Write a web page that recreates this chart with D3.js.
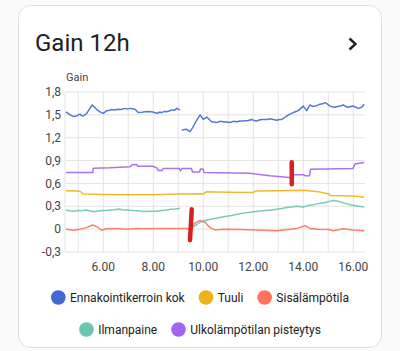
<!DOCTYPE html>
<html><head><meta charset="utf-8">
<script src="https://cdn.jsdelivr.net/npm/d3@7"></script>
<style>body{margin:0;background:#fafafa;}svg{display:block;font-family:Roboto,"Noto Sans",sans-serif;}</style>
</head><body>
<svg id="c" width="400" height="351"></svg>
<script>
// ---- data ----
const title = "Gain 12h";
const axisName = "Gain";
const seriesNames = ["Ennakointikerroin kok","Tuuli","Sisälämpötila","Ilmanpaine","Ulkolämpötilan pisteytys"];
const seriesColors = ["#4269d0","#efb118","#ff725c","#6cc5b0","#a463f2"];
const yTicks = [-0.3,0,0.3,0.6,0.9,1.2,1.5,1.8];
const xTickHours = [6,8,10,12,14,16];
const xGridHours = [5,6,7,8,9,10,11,12,13,14,15,16];
const xDomain = [4.47,16.47];

const ennakointi = [[4.51,1.54],[4.67,1.50],[4.80,1.48],[4.94,1.485],[5.00,1.50],[5.07,1.51],[5.13,1.49],[5.20,1.485],[5.34,1.52],[5.45,1.58],[5.56,1.63],[5.65,1.60],[5.74,1.57],[5.87,1.54],[6.00,1.52],[6.14,1.555],[6.25,1.56],[6.34,1.57],[6.45,1.565],[6.60,1.575],[6.70,1.57],[6.87,1.585],[6.97,1.575],[7.07,1.585],[7.17,1.58],[7.27,1.575],[7.40,1.53],[7.55,1.535],[7.67,1.54],[7.80,1.545],[7.94,1.54],[8.05,1.53],[8.14,1.52],[8.25,1.535],[8.34,1.53],[8.45,1.545],[8.54,1.54],[8.64,1.55],[8.74,1.565],[8.84,1.56],[8.94,1.585],[9.07,1.565],[9.10,null],
  [9.14,1.30],[9.34,1.31],[9.47,1.28],[9.57,1.33],[9.67,1.39],[9.87,1.50],[10.00,1.44],[10.14,1.47],[10.24,1.44],[10.34,1.41],[10.54,1.40],[10.67,1.415],[10.80,1.41],[10.94,1.405],[11.07,1.40],[11.20,1.415],[11.34,1.41],[11.47,1.42],[11.60,1.42],[11.80,1.425],[11.94,1.44],[12.04,1.425],[12.14,1.42],[12.27,1.435],[12.40,1.44],[12.54,1.44],[12.67,1.45],[12.80,1.44],[12.94,1.43],[13.04,1.44],[13.14,1.44],[13.34,1.485],[13.47,1.51],[13.60,1.53],[13.80,1.555],[14.00,1.615],[14.14,1.555],[14.27,1.63],[14.37,1.61],[14.47,1.615],[14.57,1.625],[14.67,1.64],[14.77,1.645],[14.87,1.66],[14.97,1.64],[15.07,1.615],[15.17,1.605],[15.27,1.60],[15.37,1.61],[15.47,1.615],[15.60,1.63],[15.70,1.61],[15.80,1.60],[15.90,1.61],[16.00,1.615],[16.10,1.60],[16.20,1.585],[16.34,1.60],[16.44,1.64]];

const tuuli = [[4.51,0.505],[5.00,0.50],[5.10,0.49],[5.20,0.46],[6.00,0.455],[7.00,0.45],[8.00,0.45],[9.00,0.46],[9.90,0.465],[10.00,0.46],[10.12,0.49],[11.00,0.485],[12.00,0.48],[12.08,0.50],[13.00,0.505],[14.00,0.51],[14.60,0.49],[15.00,0.465],[15.10,0.44],[16.00,0.435],[16.44,0.42]];

const sisa = [[4.51,0.0],[4.80,-0.015],[5.07,0.0],[5.34,0.02],[5.56,0.055],[5.74,0.035],[5.94,-0.015],[6.14,0.005],[6.54,0.01],[6.94,0.0],[7.34,0.01],[7.74,0.005],[8.27,0.01],[8.80,0.01],[9.34,0.01],[9.50,0.0],[9.67,0.08],[9.87,0.115],[10.07,0.09],[10.27,0.02],[10.47,-0.01],[10.80,0.0],[11.50,-0.005],[12.14,-0.01],[12.94,-0.02],[13.47,0.0],[13.74,0.01],[14.07,0.045],[14.27,0.01],[14.60,0.0],[15.00,-0.005],[15.20,-0.02],[15.60,0.005],[16.00,-0.01],[16.44,-0.02]];

const ilma = [[4.51,0.25],[4.65,0.24],[4.80,0.235],[4.94,0.245],[5.07,0.24],[5.20,0.245],[5.30,0.25],[5.45,0.24],[5.60,0.23],[5.75,0.235],[5.90,0.24],[6.10,0.245],[6.27,0.25],[6.45,0.255],[6.60,0.265],[6.75,0.255],[6.93,0.25],[7.14,0.245],[7.34,0.24],[7.54,0.235],[7.74,0.23],[7.94,0.235],[8.14,0.235],[8.34,0.245],[8.54,0.25],[8.70,0.26],[8.87,0.265],[9.07,0.275],[9.10,null],
  [9.35,0.005],[9.50,-0.005],[9.60,0.03],[9.87,0.09],[10.14,0.12],[10.47,0.14],[10.87,0.165],[11.14,0.18],[11.40,0.20],[11.80,0.22],[12.10,0.23],[12.40,0.24],[12.70,0.25],[12.94,0.26],[13.14,0.27],[13.34,0.285],[13.54,0.29],[13.74,0.30],[14.00,0.29],[14.27,0.315],[14.47,0.325],[14.67,0.34],[14.87,0.35],[15.00,0.36],[15.20,0.375],[15.40,0.365],[15.60,0.345],[15.87,0.32],[16.14,0.305],[16.44,0.29]];

const ulko = [[4.51,0.745],[5.58,0.745],[5.60,0.80],[6.27,0.805],[7.07,0.82],[7.15,0.845],[7.34,0.85],[7.37,0.825],[8.00,0.825],[8.15,0.80],[8.21,0.77],[8.35,0.77],[8.40,0.795],[9.05,0.795],[9.09,0.765],[9.15,0.795],[9.53,0.795],[9.57,0.75],[9.85,0.75],[9.89,0.79],[9.99,0.79],[10.03,0.745],[11.87,0.733],[12.00,0.728],[12.67,0.70],[13.34,0.68],[13.53,0.675],[13.59,0.715],[14.03,0.715],[14.07,0.70],[14.25,0.70],[14.29,0.785],[15.99,0.795],[16.07,0.855],[16.44,0.875]];

const redMarks = [[[9.54,0.26],[9.47,-0.145]],[[13.54,0.877],[13.54,0.59]]];

// ---- drawing ----
const svg = d3.select("#c");
svg.append("rect").attr("x",18.5).attr("y",5.5).attr("width",363).attr("height",342)
  .attr("rx",12).attr("fill","#fff").attr("stroke","#e0e0e0");

svg.append("text").attr("x",35).attr("y",51).attr("font-size",24).attr("fill","#212121").text(title);
svg.append("path").attr("d","M349.5,38.5L355.5,44L349.5,49.5").attr("fill","none")
  .attr("stroke","#212121").attr("stroke-width",2.4);

const L=65,R=365,T=92,B=252;
const x = d3.scaleLinear().domain(xDomain).range([L,R]);
const y = d3.scaleLinear().domain([-0.3,1.8]).range([B,T]);

svg.append("defs").append("clipPath").attr("id","lblclip")
  .append("rect").attr("x",0).attr("y",0).attr("width",368).attr("height",351);

const g = svg.append("g");
// grid
g.selectAll(".hg").data(yTicks).join("line").attr("x1",L).attr("x2",R)
  .attr("y1",d=>y(d)).attr("y2",d=>y(d)).attr("stroke","#e3e3e3");
g.selectAll(".vg").data(xGridHours).join("line").attr("y1",T).attr("y2",B)
  .attr("x1",d=>x(d)).attr("x2",d=>x(d)).attr("stroke","#e3e3e3");
g.append("line").attr("x1",L).attr("x2",L).attr("y1",T).attr("y2",B).attr("stroke","#e3e3e3");

// labels
const fmtY = v => v===0 ? "0" : v.toFixed(1).replace(".",",");
g.selectAll(".yl").data(yTicks).join("text").attr("x",61).attr("y",d=>y(d))
  .attr("dy","0.35em").attr("text-anchor","end").attr("font-size",12).attr("fill","#444").text(fmtY);
g.append("g").attr("clip-path","url(#lblclip)").selectAll("text").data(xTickHours).join("text")
  .attr("x",d=>x(d)).attr("y",271)
  .attr("text-anchor","middle").attr("font-size",12).attr("fill","#444").text(d=>d+".00");
svg.append("text").attr("x",66).attr("y",81).attr("font-size",11).attr("fill","#444").text(axisName);

// lines
const line = d3.line().defined(d=>d[1]!==null).x(d=>x(d[0])).y(d=>y(d[1]));
const all = [ennakointi,tuuli,sisa,ilma,ulko];
const order = [1,3,2,4,0];
order.forEach(i=>{
  g.append("path").datum(all[i]).attr("d",line).attr("fill","none")
   .attr("stroke",seriesColors[i]).attr("stroke-width",1.5).attr("stroke-linejoin","round")
   .attr("stroke-opacity",0.9);
});
redMarks.forEach(m=>{
  g.append("path").datum(m).attr("d",d3.line().x(d=>x(d[0])).y(d=>y(d[1])))
   .attr("stroke","#d42222").attr("stroke-width",4.5).attr("stroke-linecap","round").attr("fill","none");
});

// legend
const rows = [[0,1,2],[3,4]];
const rowY = [297.5,329.5];
rows.forEach((row,ri)=>{
  const lg = svg.append("g");
  let cx = 0;
  row.forEach((si,k)=>{
    const it = lg.append("g").attr("transform",`translate(${cx},0)`);
    it.append("circle").attr("cx",7.3).attr("cy",0).attr("r",7.3).attr("fill",seriesColors[si]);
    const t = it.append("text").attr("x",19).attr("dy","0.35em").attr("font-size",12).attr("fill","#212121").text(seriesNames[si]);
    cx += 19 + t.node().getComputedTextLength() + 14;
  });
  const w = cx - 14;
  lg.attr("transform",`translate(${200 - w/2},${rowY[ri]})`);
});
</script>
</body></html>
